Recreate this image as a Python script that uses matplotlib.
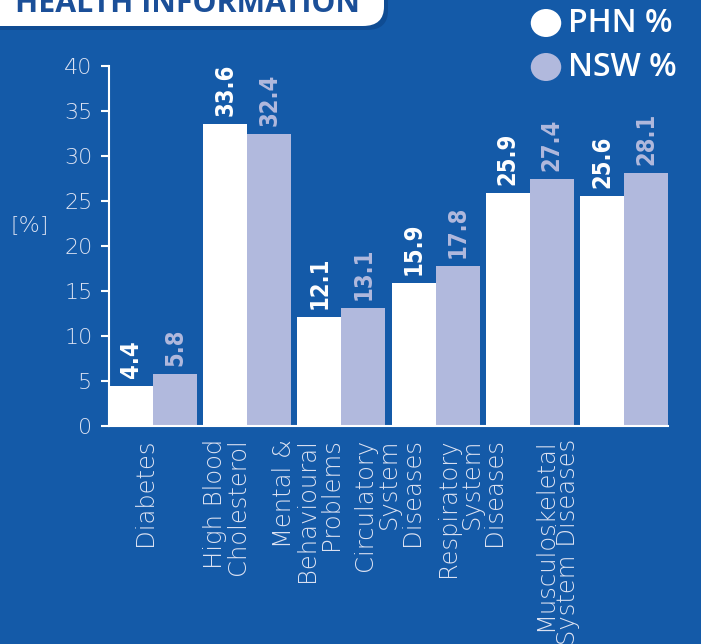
import matplotlib.pyplot as plt
import numpy as np
from matplotlib.patches import FancyBboxPatch, Circle

categories = ["Diabetes", "High Blood\nCholesterol", "Mental &\nBehavioural\nProblems",
              "Circulatory\nSystem\nDiseases", "Respiratory\nSystem\nDiseases",
              "Musculoskeletal\nSystem Diseases"]
phn = [4.4, 33.6, 12.1, 15.9, 25.9, 25.6]
nsw = [5.8, 32.4, 13.1, 17.8, 27.4, 28.1]
yticks = [0, 5, 10, 15, 20, 25, 30, 35, 40]
# label anchors sit a bit left of the groups in the original
label_pos = [-0.09, 0.78, 1.64, 2.5, 3.38, 4.28]

BG = '#145AA8'
LAV = '#B1B9DD'
TXT = '#DCE2F2'

fig = plt.figure(figsize=(7.01, 6.44), dpi=100, facecolor=BG)
ax = fig.add_axes([109 / 701, 1 - 426 / 644, (668 - 109) / 701, (426 - 66) / 644])
ax.set_facecolor(BG)

x = np.arange(len(categories))
w = 0.467
ax.bar(x - w / 2, phn, width=w, color='white', zorder=2)
ax.bar(x + w / 2, nsw, width=w, color=LAV, zorder=2)

vfont = dict(family='DejaVu Sans', fontstretch='condensed', fontweight='bold', fontsize=17)
for xi, p, n in zip(x, phn, nsw):
    ax.text(xi - w / 2, p + 0.9, f'{p}', rotation=90, ha='center', va='bottom', color='white', **vfont)
    ax.text(xi + w / 2, n + 0.9, f'{n}', rotation=90, ha='center', va='bottom', color=LAV, **vfont)

lfont = dict(family='DejaVu Sans', fontweight='light', color=TXT)
ax.set_xlim(-w, len(categories) - 1 + w)
ax.set_ylim(0, 40)
ax.set_yticks(yticks)
ax.set_yticklabels([str(t) for t in yticks], fontsize=16, **lfont)
ax.tick_params(axis='y', direction='out', length=6, width=1.5, color='white', pad=6)
ax.set_xticks(label_pos)
ax.set_xticklabels(categories, rotation=90, ha='center', va='top', multialignment='right',
                   fontsize=17.5, linespacing=0.95, **lfont)
ax.tick_params(axis='x', length=0, pad=9)

for s in ['top', 'right']:
    ax.spines[s].set_visible(False)
for s in ['left', 'bottom']:
    ax.spines[s].set_color('white')
    ax.spines[s].set_linewidth(1.5)

fig.text(30 / 701, 1 - 225 / 644, '[%]', ha='center', va='center', fontsize=16, **lfont)

# header tab
fig.patches.append(FancyBboxPatch((-40 / 701, 1 - 30 / 644), 428 / 701, 60 / 644,
                                  boxstyle='round,pad=0,rounding_size=0.03', transform=fig.transFigure,
                                  facecolor='#0F4C93', edgecolor='none'))
fig.patches.append(FancyBboxPatch((-40 / 701, 1 - 26 / 644), 424 / 701, 60 / 644,
                                  boxstyle='round,pad=0,rounding_size=0.03', transform=fig.transFigure,
                                  facecolor='white', edgecolor='none'))
fig.text(15 / 701, 1 - 12 / 644, 'HEALTH INFORMATION', ha='left', va='baseline',
         fontsize=21.8, fontweight='bold', color='#1B4F98', family='Open Sans')

# legend
for yy, col, lab in [(23, 'white', 'PHN %'), (67, LAV, 'NSW %')]:
    fig.patches.append(Circle((546 / 701, 1 - yy / 644), 14 / 644, transform=fig.transFigure,
                              facecolor=col, edgecolor='none'))
    fig.text(568 / 701, 1 - yy / 644, lab, ha='left', va='center', fontsize=23,
             fontweight='semibold', color='white', family='Open Sans')

fig.savefig('out.png', dpi=100, facecolor=BG)
